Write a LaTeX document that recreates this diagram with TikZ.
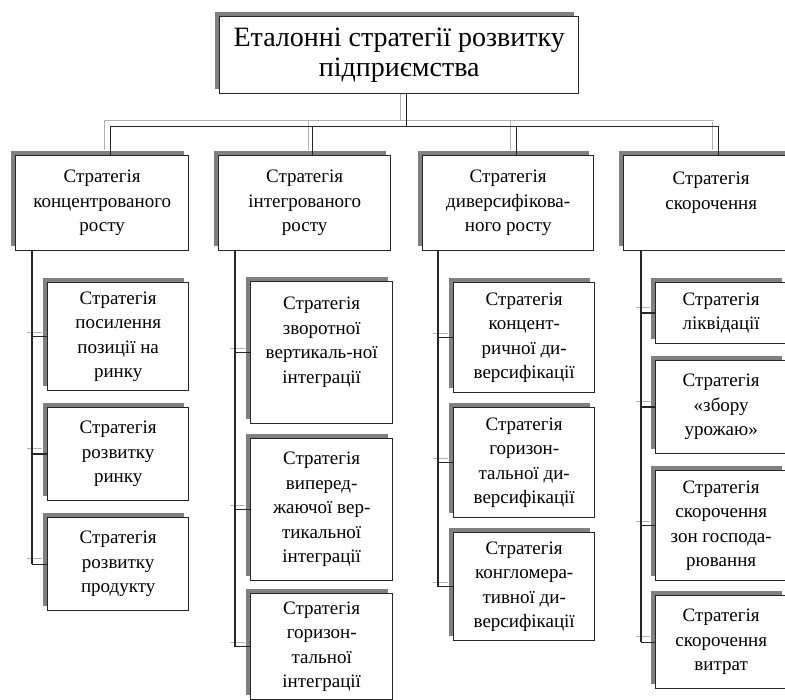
\documentclass[tikz,border=0pt]{standalone}
\usepackage{fontspec}
\setmainfont{Liberation Serif}
\usetikzlibrary{shadows,backgrounds}
\tikzset{
  box/.style={draw=black!85, line width=1.4pt, fill=white, align=center, anchor=north west, inner sep=2pt,
    drop shadow={shadow xshift=-5pt, shadow yshift=5pt, fill=black!50, opacity=1}},
  subbox/.style={box, font=\fontsize{19}{24.5}\selectfont},
  size/.style 2 args={minimum width=#1pt, minimum height=#2pt},
  link/.style={draw=black!85, line width=1.4pt},
  linkshade/.style={draw=black!30, double=white, double distance=1.2pt, line width=0.5pt,
    transform canvas={shift={(-5pt,5pt)}}}
}
\newcommand{\drawlinks}[1]{%
  \draw[#1] ([xshift=7pt]top.south) -- (hub);
  \draw[#1] ([xshift=8pt]conc.north) |- (hub) -| ([xshift=7pt]shrink.north);
  \draw[#1] ([xshift=8pt]integ.north) -- ([xshift=8pt]integ.north |- hub);
  \draw[#1] ([xshift=8pt]divers.north) -- ([xshift=8pt]divers.north |- hub);
  \draw[#1] (t1) -- (t1 |- c1c.west);
  \draw[#1] (t2) -- (t2 |- c2c.west);
  \draw[#1] (t3) -- (t3 |- c3c.west);
  \draw[#1] (t4) -- (t4 |- c4d.west);
  \foreach \t/\c in {t1/c1a, t1/c1b, t1/c1c, t2/c2a, t2/c2b, t2/c2c,
                     t3/c3a, t3/c3b, t3/c3c, t4/c4a, t4/c4b, t4/c4c, t4/c4d}
    \draw[#1] (\t |- \c.west) -- (\c.west);
}

\begin{document}
\begin{tikzpicture}[x=1pt,y=-1pt]
\useasboundingbox (0,0) rectangle (785,700);

\node[box, size={359}{77}, font=\fontsize{28}{30}\selectfont] (top) at (219,16)
  {Еталонні стратегії розвитку\\підприємства};

% level 1
\node[subbox, size={173}{95}] (conc)   at (15,155)  {Стратегія\\концентрованого\\росту};
\node[subbox, size={172}{95}] (integ)  at (218,155) {Стратегія\\інтегрованого\\росту};
\node[subbox, size={171}{95}] (divers) at (422,155) {Стратегія\\диверсифікова-\\ного росту};
\node[subbox, size={175}{95}] (shrink) at (623,155) {Стратегія\\скорочення\\\mbox{}};

% level 2
\node[subbox, size={141}{108}] (c1a) at (47,282) {Стратегія\\посилення\\позиції на\\ринку};
\node[subbox, size={141}{93}]  (c1b) at (47,407) {Стратегія\\розвитку\\ринку};
\node[subbox, size={141}{93}]  (c1c) at (47,517) {Стратегія\\розвитку\\продукту};

\node[subbox, size={142}{142}] (c2a) at (250,281) {Стратегія\\зворотної\\вертикаль-ної\\інтеграції\\\mbox{}};
\node[subbox, size={142}{142}] (c2b) at (250,438) {Стратегія\\виперед-\\жаючої вер-\\тикальної\\інтеграції};
\node[subbox, size={142}{106}] (c2c) at (250,593) {Стратегія\\горизон-\\тальної\\інтеграції};

\node[subbox, size={141}{110}] (c3a) at (453,282) {Стратегія\\концент-\\ричної ди-\\версифікації};
\node[subbox, size={141}{110}] (c3b) at (453,407) {Стратегія\\горизон-\\тальної ди-\\версифікації};
\node[subbox, size={141}{108}] (c3c) at (453,532) {Стратегія\\конгломера-\\тивної ди-\\версифікації};

\node[subbox, size={131}{61}]  (c4a) at (655,282) {Стратегія\\ліквідації};
\node[subbox, size={131}{93}]  (c4b) at (655,360) {Стратегія\\«збору\\урожаю»};
\node[subbox, size={131}{110}] (c4c) at (655,470) {Стратегія\\скорочення\\зон господа-\\рювання};
\node[subbox, size={131}{93}]  (c4d) at (655,595) {Стратегія\\скорочення\\витрат};

\path ([xshift=7pt]top.south) ++(0,32) coordinate (hub);
\path (conc.south west)   ++(17,0) coordinate (t1);
\path (integ.south west)  ++(17,0) coordinate (t2);
\path (divers.south west) ++(16,0) coordinate (t3);
\path (shrink.south west) ++(18,0) coordinate (t4);

\begin{pgfonlayer}{background}
  \drawlinks{linkshade}
\end{pgfonlayer}
\drawlinks{link}
\end{tikzpicture}
\end{document}
